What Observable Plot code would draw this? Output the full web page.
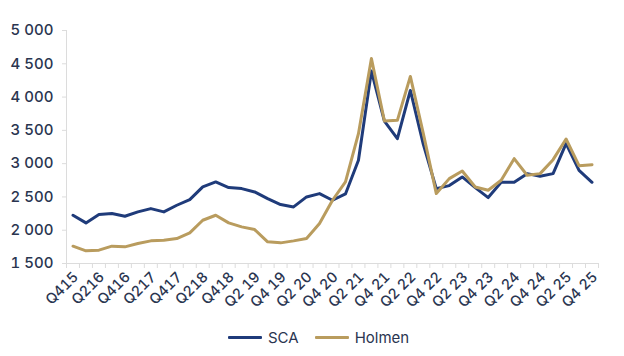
<!DOCTYPE html>
<html>
<head>
<meta charset="utf-8">
<script src="https://cdn.jsdelivr.net/npm/d3@7"></script>
<script src="https://cdn.jsdelivr.net/npm/@observablehq/plot@0.6"></script>
<style>
  html, body { margin: 0; padding: 0; background: #fff; }
  #wrap { position: relative; width: 624px; height: 356px; font-family: Inter, "Open Sans", sans-serif; }
  #legend { position: absolute; left: 228px; top: 328px; display: flex; align-items: center; font-size: 15px; color: #2a3550; }
  .sw { display: inline-block; width: 34px; height: 3px; margin-right: 6px; border-radius: 1px; }
  .item { display: flex; align-items: center; margin-right: 16px; }
</style>
</head>
<body>
<div id="wrap">
  <div id="chart"></div>
  <div id="legend"></div>
</div>
<script>
const seriesNames = ["SCA", "Holmen"];
const seriesColors = ["#1f3b7a", "#b99c5e"];
const tickLabels = ["Q415","Q216","Q416","Q217","Q417","Q218","Q418","Q2 19","Q4 19","Q2 20","Q4 20","Q2 21","Q4 21","Q2 22","Q4 22","Q2 23","Q4 23","Q2 24","Q4 24","Q2 25","Q4 25"];
const yTicks = [1500, 2000, 2500, 3000, 3500, 4000, 4500, 5000];
const sca = [2225, 2110, 2235, 2250, 2210, 2275, 2325, 2275, 2375, 2460, 2650, 2725, 2640, 2625, 2575, 2475, 2385, 2350, 2500, 2550, 2450, 2545, 3050, 4390, 3640, 3375, 4100, 3290, 2625, 2670, 2800, 2640, 2490, 2720, 2720, 2850, 2810, 2850, 3300, 2900, 2720];
const holmen = [1760, 1690, 1700, 1760, 1750, 1800, 1840, 1850, 1875, 1960, 2150, 2225, 2110, 2050, 2010, 1825, 1810, 1840, 1875, 2100, 2450, 2725, 3450, 4580, 3640, 3650, 4310, 3450, 2550, 2775, 2890, 2650, 2600, 2750, 3075, 2825, 2850, 3060, 3370, 2970, 2985];

const data = [
  ...sca.map((v, i) => ({i, v, series: "SCA"})),
  ...holmen.map((v, i) => ({i, v, series: "Holmen"}))
];
const textColor = "#2a3550";
const axisGray = "#dcdcdc";
const fmt = d => d3.format(",")(d).replace(",", " ");

const chart = Plot.plot({
  width: 624,
  height: 320,
  marginLeft: 66,
  marginRight: 26,
  marginTop: 30,
  marginBottom: 57,
  x: {type: "linear", domain: [-0.5, sca.length - 0.5]},
  y: {domain: [1500, 5000]},
  color: {domain: seriesNames, range: seriesColors},
  style: {fontFamily: "Inter, 'Open Sans', sans-serif", color: textColor, background: "white", overflow: "visible"},
  marks: [
    Plot.ruleX([-0.5], {stroke: axisGray}),
    Plot.ruleY([1500], {stroke: axisGray}),
    Plot.axisY({ticks: yTicks, tickSize: 4, tickPadding: 9, tickFormat: fmt, fontSize: 15, fontWeight: 500, stroke: axisGray, fill: textColor, label: null}),
    Plot.axisX({ticks: d3.range(-0.5, sca.length, 1), tickSize: 5, tickFormat: () => "", stroke: axisGray, label: null}),
    Plot.axisX({ticks: d3.range(0, sca.length, 2), tickSize: 0, tickRotate: -45, tickPadding: 11, dx: 3, tickFormat: i => tickLabels[i / 2], fontSize: 14.5, fontWeight: 500, fill: textColor, label: null}),
    Plot.line(data, {x: "i", y: "v", stroke: "series", z: "series", strokeWidth: 3})
  ]
});
document.getElementById("chart").appendChild(chart);

const legend = document.getElementById("legend");
seriesNames.forEach((n, k) => {
  const it = document.createElement("span");
  it.className = "item";
  it.innerHTML = `<span class="sw" style="background:${seriesColors[k]}"></span><span>${n}</span>`;
  legend.appendChild(it);
});
</script>
</body>
</html>
